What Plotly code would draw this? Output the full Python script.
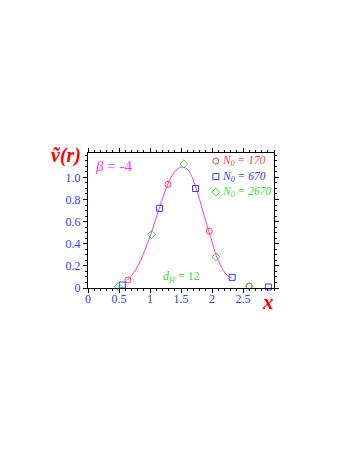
import plotly.graph_objects as go

# Data
red_x = [0.645, 1.29, 1.957, 2.60]
red_y = [0.072, 0.937, 0.513, 0.018]
blue_x = [0.553, 1.154, 1.734, 2.325, 2.91]
blue_y = [0.027, 0.72, 0.899, 0.096, 0.009]
green_x = [0.488, 1.024, 1.545, 2.065, 2.60]
green_y = [0.012, 0.484, 1.122, 0.281, 0.015]
curve_x = [0.634, 0.70, 0.77, 0.85, 0.93, 1.01, 1.08, 1.15, 1.22, 1.29, 1.36, 1.42, 1.48,
           1.53, 1.60, 1.665, 1.745, 1.80, 1.855, 1.95, 2.00, 2.07, 2.15, 2.22, 2.28, 2.325]
curve_y = [0.07, 0.11, 0.165, 0.25, 0.36, 0.48, 0.60, 0.72, 0.84, 0.94, 1.02, 1.065, 1.088,
           1.093, 1.075, 1.02, 0.90, 0.80, 0.69, 0.51, 0.42, 0.29, 0.19, 0.13, 0.10, 0.09]
x_ticks = [0, 0.5, 1, 1.5, 2, 2.5]
x_ticktext = ["0", "0.5", "1", "1.5", "2", "2.5"]
y_ticks = [0, 0.2, 0.4, 0.6, 0.8, 1.0]
y_ticktext = ["0", "0.2", "0.4", "0.6", "0.8", "1.0"]
labels = ["170", "670", "2670"]

RED = "#ff4040"
BLUE = "#3838ff"
GREEN = "#33dd33"
MAG = "#ff33ff"
FONT = "Liberation Serif"

fig = go.Figure()
fig.add_trace(go.Scatter(x=curve_x, y=curve_y, mode="lines", line=dict(color=MAG, width=1, shape="spline"),
                         showlegend=False, hoverinfo="skip"))
series = [(red_x, red_y, RED, "circle-open", labels[0], "legend"),
          (blue_x, blue_y, BLUE, "square-open", labels[1], "legend2"),
          (green_x, green_y, GREEN, "diamond-open", labels[2], "legend3")]
leg_rows = [0.94, 0.825, 0.71]
for i, (xs, ys, col, sym, lab, lg) in enumerate(series):
    fig.add_trace(go.Scatter(
        x=xs, y=ys, mode="markers",
        marker=dict(symbol=sym, size=6, color=col, line=dict(width=1, color=col)),
        name=" ", legend=lg, cliponaxis=False))
    fig.add_annotation(x=0.71, y=leg_rows[i], xref="paper", yref="paper", xanchor="left", yanchor="middle",
                       text=f"<i>N<sub>0</sub> = {lab}</i>", showarrow=False,
                       font=dict(family=FONT, size=11.5, color=col))

axis_common = dict(showline=True, linecolor="black", linewidth=1, mirror="allticks",
                   ticks="outside", ticklen=4, tickcolor="black", showgrid=False, zeroline=False,
                   tickfont=dict(family=FONT, size=12, color=BLUE))
fig.update_xaxes(range=[0, 3], tickvals=x_ticks, ticktext=x_ticktext, ticklabelstandoff=-4,
                 minor=dict(dtick=0.1, ticklen=2, ticks="outside", tickcolor="black"),
                 **axis_common)
fig.update_yaxes(range=[0, 1.22], tickvals=y_ticks, ticktext=y_ticktext,
                 minor=dict(dtick=0.05, ticklen=2, ticks="outside", tickcolor="black"),
                 **axis_common)

fig.add_annotation(x=0, y=1.0, xref="paper", yref="paper", xanchor="left", yanchor="top",
                   xshift=5, yshift=-3,
                   text="<i>β</i> = -4", showarrow=False, font=dict(family=FONT, size=15, color=MAG))
fig.add_annotation(x=1.5, y=0.0, xref="x", yref="paper", xanchor="center", yanchor="bottom",
                   yshift=1,
                   text="<i>d<sub>H</sub></i> = 12", showarrow=False, font=dict(family=FONT, size=12, color=GREEN))
fig.add_annotation(x=0, y=1.0, xref="paper", yref="paper", xanchor="right", yanchor="middle",
                   xshift=-5, yshift=-2,
                   text="<b><i>ṽ(r)</i></b>", showarrow=False, font=dict(family=FONT, size=20, color="red"))
fig.add_annotation(x=1.0, y=0.0, xref="paper", yref="paper", xanchor="center", yanchor="top",
                   xshift=-6, yshift=0,
                   text="<b><i>x</i></b>", showarrow=False, font=dict(family=FONT, size=21, color="red"))

leg_common = dict(xanchor="left", yanchor="middle", bgcolor="rgba(0,0,0,0)",
                  font=dict(family=FONT, size=10), itemwidth=30)
fig.update_layout(
    width=354, height=458,
    margin=dict(l=80, r=88, t=145, b=178),
    paper_bgcolor="white", plot_bgcolor="white",
    font=dict(family=FONT),
    legend=dict(x=0.58, y=leg_rows[0], **leg_common),
    legend2=dict(x=0.58, y=leg_rows[1], **leg_common),
    legend3=dict(x=0.58, y=leg_rows[2], **leg_common),
)

fig.write_html("out.html")
